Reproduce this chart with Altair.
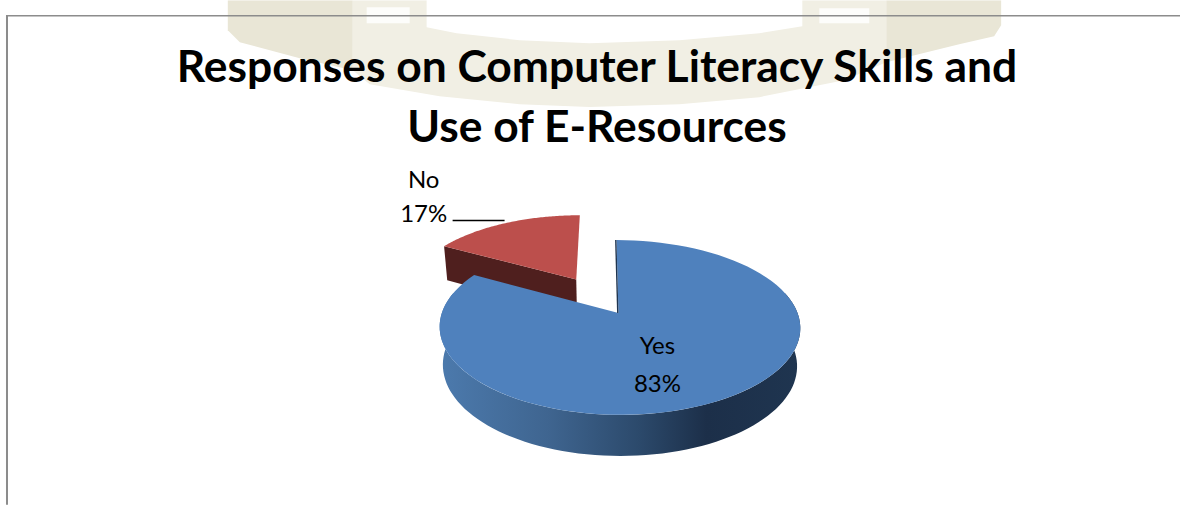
import math
import altair as alt

# Survey shares
categories = ["Yes", "No"]
shares = [83, 17]
title_lines = ["Responses on Computer Literacy Skills and", "Use of E-Resources"]

W, H = 1181, 505

# Oblique view of the pie: hub position on the page, radius, foreshortening
CX, CY = 619, 313
RX, RY, K = 178, 85, 0.166
EXPLODE = 0.49


def project(u, v, drop=False):
    """Map a point of the unit disc to page pixels; drop lowers it to the base of the disc."""
    s = 1 + K * v
    shrink = 0.982 if drop else 1.0
    x = CX - 2 * v + 1.2 * u * u + RX * u / s * shrink
    y = CY - RY * v / s
    if drop:
        y += 37.5 - 3.7 * v
    return [x, y]


def rim(a0, a1, n=90):
    return [(math.sin(a0 + (a1 - a0) * i / n), math.cos(a0 + (a1 - a0) * i / n)) for i in range(n + 1)]


def poly(points, name):
    ring = points + [points[0]]
    return {"type": "Feature", "properties": {"part": name},
            "geometry": {"type": "Polygon", "coordinates": [ring]}}


no_span = 2 * math.pi * shares[1] / sum(shares)
mid = -no_span / 2
ou, ov = EXPLODE * math.sin(mid), EXPLODE * math.cos(mid)

# "Yes" keeps the hub, "No" is pulled out along its bisector
yes_rim = rim(0, 2 * math.pi - no_span)
yes_top = [project(0, 0)] + [project(u, v) for u, v in yes_rim]
front = rim(math.pi * 0.42, math.pi * 1.58)
yes_side = [project(u, v) for u, v in front] + [project(u, v, True) for u, v in reversed(front)]

no_rim = [(u + ou, v + ov) for u, v in rim(-no_span, 0)]
no_top = [project(ou, ov)] + [project(u, v) for u, v in no_rim]
left_end = no_rim[0]
no_side = [project(*left_end), project(ou, ov), project(ou, ov, True), project(*left_end, True)]
hub, far = project(0, 0), project(0, 1)
yes_cut = [far, hub, [hub[0] - 1.4, hub[1]], [far[0] - 1.4, far[1]]]


def layer_shape(points, name, fill):
    return (
        alt.Chart(alt.Data(values=[poly(points, name)], format=alt.DataFormat(type="json")))
        .mark_geoshape(fill=fill, stroke=None)
        .project(type="identity", scale=1, translate=[0, 0])
    )


side_fill = alt.Gradient(
    gradient="linear", x1=0, x2=1, y1=0, y2=0,
    stops=[
        alt.GradientStop(color="#4c7aad", offset=0),
        alt.GradientStop(color="#3f6590", offset=0.3),
        alt.GradientStop(color="#2c4a6c", offset=0.55),
        alt.GradientStop(color="#1c2f49", offset=0.74),
        alt.GradientStop(color="#1f3550", offset=1),
    ],
)

# Pale masthead ribbon behind the heading
ribbon_band = [[353, 0], [427, 0], [427, 27], [457, 33], [520, 40], [590, 43], [680, 40], [760, 33], [803, 26],
               [803, 0], [887, 0], [887, 62], [845, 80], [760, 97], [680, 104], [590, 107], [520, 104], [440, 96],
               [370, 84], [353, 70]]
ribbon_left = [[228, 0], [353, 0], [353, 70], [300, 58], [240, 42], [228, 30]]
ribbon_right = [[887, 0], [1002, 0], [1002, 25], [995, 36], [960, 44], [887, 62]]
ribbon_hole_left = [[367, 7], [410, 7], [410, 23], [367, 23]]
ribbon_hole_right = [[820, 8], [870, 8], [870, 23], [820, 23]]
ribbon = alt.layer(
    layer_shape(ribbon_band, "band", "#f1efe4"),
    layer_shape(ribbon_left, "left", "#e9e6d6"),
    layer_shape(ribbon_right, "right", "#e9e6d6"),
    layer_shape(ribbon_hole_left, "hole-left", "#fdfdfb"),
    layer_shape(ribbon_hole_right, "hole-right", "#fdfdfb"),
)

X_SCALE = alt.Scale(domain=[0, W], range=[0, W])
Y_SCALE = alt.Scale(domain=[0, H], range=[0, H])

frame = alt.Chart(alt.Data(values=[{"x": 6, "x2": W, "y": 15.5}])).mark_rule(
    color="#8c8c8c", strokeWidth=1.5
).encode(
    x=alt.X("x:Q", scale=X_SCALE, axis=None),
    x2="x2:Q",
    y=alt.Y("y:Q", scale=Y_SCALE, axis=None),
)
frame_left = alt.Chart(alt.Data(values=[{"x": 7, "y": 15, "y2": H}])).mark_rule(
    color="#8c8c8c", strokeWidth=2
).encode(
    x=alt.X("x:Q", scale=X_SCALE, axis=None),
    y=alt.Y("y:Q", scale=Y_SCALE, axis=None),
    y2="y2:Q",
)


def text_layer(rows, size, weight="normal"):
    return alt.Chart(alt.Data(values=rows)).mark_text(
        font="Lato", fontSize=size, fontWeight=weight, color="#000000", align="center", baseline="middle"
    ).encode(
        x=alt.X("x:Q", scale=X_SCALE, axis=None),
        y=alt.Y("y:Q", scale=Y_SCALE, axis=None),
        text="t:N",
    )


titles = text_layer([{"x": 597.5, "y": 69, "t": title_lines[0]}, {"x": 597.5, "y": 129, "t": title_lines[1]}], 44.4, "bold")
labels = text_layer(
    [
        {"x": 658, "y": 347, "t": categories[0]},
        {"x": 658, "y": 385, "t": f"{shares[0]}%"},
        {"x": 424, "y": 181, "t": categories[1]},
        {"x": 424, "y": 215, "t": f"{shares[1]}%"},
    ],
    24,
)
leader = alt.Chart(alt.Data(values=[{"x": 453, "x2": 505, "y": 220.5}])).mark_rule(color="#000000", strokeWidth=1.5).encode(
    x=alt.X("x:Q", scale=X_SCALE, axis=None),
    x2="x2:Q",
    y=alt.Y("y:Q", scale=Y_SCALE, axis=None),
)

chart = alt.layer(
    ribbon,
    frame,
    frame_left,
    layer_shape(no_side, "no-side", "#4f1f1e"),
    layer_shape(no_top, "no-top", "#bc4f4c"),
    layer_shape(yes_side, "yes-side", side_fill),
    layer_shape(yes_top, "yes-top", "#4f81bd"),
    layer_shape(yes_cut, "yes-cut", "#1f3550"),
    titles,
    labels,
    leader,
).properties(width=W, height=H, padding=0, background="#ffffff").configure_view(stroke=None)

chart.save("out.html", embed_options={"renderer": "svg", "actions": False})
